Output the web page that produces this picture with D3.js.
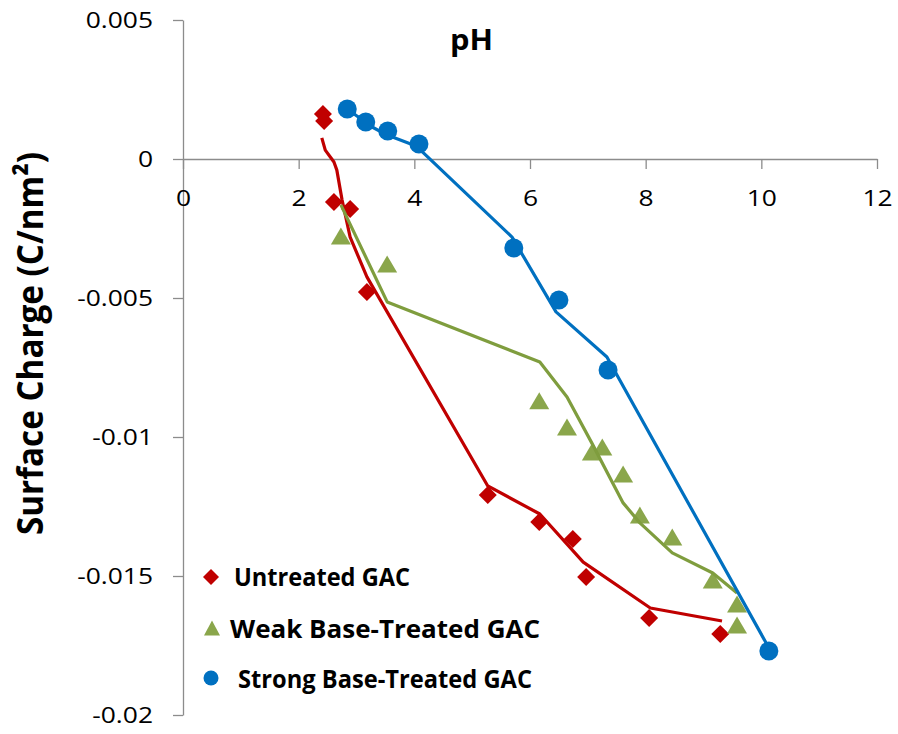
<!DOCTYPE html>
<html>
<head>
<meta charset="utf-8">
<script src="https://cdn.jsdelivr.net/npm/d3@7"></script>
<style>
  body { margin: 0; background: #fff; }
  svg { display: block; }
</style>
</head>
<body>
<svg id="chart" width="898" height="734"></svg>
<script>
// ---------- data ----------
const xTicks = [0, 2, 4, 6, 8, 10, 12];
const xTickLabels = ["0", "2", "4", "6", "8", "10", "12"];
const yTicks = [0.005, 0, -0.005, -0.01, -0.015, -0.02];
const yTickLabels = ["0.005", "0", "-0.005", "-0.01", "-0.015", "-0.02"];

const seriesNames = ["Untreated GAC", "Weak Base-Treated GAC", "Strong Base-Treated GAC"];

// measured points
const untreatedX = [2.42, 2.44, 2.61, 2.89, 3.18, 5.27, 6.16, 6.74, 6.97, 8.06, 9.29];
const untreatedY = [0.00162, 0.00137, -0.00155, -0.0018, -0.00478, -0.01209, -0.01306, -0.01367, -0.01504, -0.01651, -0.01709];

const weakX = [2.73, 3.53, 6.16, 6.64, 7.07, 7.25, 7.61, 7.90, 8.46, 9.16, 9.58, 9.58];
const weakY = [-0.00277, -0.00378, -0.0087, -0.00964, -0.01054, -0.01036, -0.01133, -0.01281, -0.0136, -0.01514, -0.01601, -0.01676];

const strongX = [2.84, 3.16, 3.54, 4.08, 5.72, 6.50, 7.35, 10.13];
const strongY = [0.0018, 0.00133, 0.00101, 0.00054, -0.0032, -0.00507, -0.00759, -0.0177];

// model (fitted) curves
const untreatedFitX = [2.40, 2.46, 2.61, 2.66, 2.75, 2.89, 3.18, 5.27, 6.17, 6.92, 8.08, 9.32];
const untreatedFitY = [0.00076, 0.00032, -0.00011, -0.0004, -0.00147, -0.00281, -0.00424, -0.01176, -0.01277, -0.0145, -0.01615, -0.01662];

const weakFitX = [2.73, 3.53, 6.17, 6.64, 7.07, 7.61, 7.90, 8.46, 9.16, 9.58];
const weakFitY = [-0.00165, -0.00514, -0.0073, -0.00856, -0.01022, -0.01237, -0.01309, -0.01417, -0.01489, -0.01561];

const strongFitX = [2.84, 3.27, 3.53, 4.03, 5.69, 6.45, 7.33, 10.15];
const strongFitY = [0.0018, 0.00115, 0.00086, 0.00047, -0.00281, -0.0055, -0.00712, -0.01766];

// ---------- styling ----------
const colors = ["#C00000", "#8AA64B", "#0070C0"];
const lineColors = ["#C00000", "#7F9D3E", "#0070C0"];
const axisColor = "#8C8C8C";
const fontReg = "'Open Sans', 'DejaVu Sans', sans-serif";
const stretch = 1.2;

const svg = d3.select("#chart");
svg.append("rect").attr("width", 898).attr("height", 734).attr("fill", "#fff");

const x = d3.scaleLinear().domain([0, 12]).range([183, 877]);
const y = d3.scaleLinear().domain([-0.02, 0.005]).range([715, 20]);

// ---------- axes ----------
const yAxis = d3.axisLeft(y)
  .tickValues(yTicks)
  .tickFormat((d, i) => yTickLabels[i])
  .tickSize(10).tickSizeOuter(0).tickPadding(20);
const gy = svg.append("g").attr("transform", `translate(${x(0)},0)`).call(yAxis);

const xAxis = d3.axisBottom(x)
  .tickValues(xTicks)
  .tickFormat((d, i) => xTickLabels[i])
  .tickSize(10).tickSizeOuter(0);
const gx = svg.append("g").attr("transform", `translate(0,${y(0)})`).call(xAxis);

[gx, gy].forEach(g => {
  g.select(".domain").attr("stroke", axisColor).attr("stroke-width", 1.3);
  g.selectAll(".tick line").attr("stroke", axisColor).attr("stroke-width", 1.3);
  g.selectAll(".tick text")
    .attr("fill", "#000")
    .style("font-family", fontReg)
    .style("font-size", "22px");
});
gx.selectAll(".tick text").attr("y", 47).attr("dy", 0);
gy.selectAll(".tick text").attr("dy", "0.36em");

// horizontally stretch tick labels to match the reference aspect
svg.selectAll(".tick text").each(function () {
  const len = this.getComputedTextLength();
  d3.select(this).attr("textLength", len * stretch).attr("lengthAdjust", "spacingAndGlyphs");
});

// ---------- marker shapes ----------
function diamond(s) { const h = s / 2; return `M0,${-h}L${h},0L0,${h}L${-h},0Z`; }
function triangle(w, h) { return `M0,${-h / 2}L${w / 2},${h / 2}L${-w / 2},${h / 2}Z`; }
function circle(d) { const r = d / 2; return `M${r},0A${r},${r},0,1,1,${-r},0A${r},${r},0,1,1,${r},0Z`; }

const line = d3.line().x(d => x(d[0])).y(d => y(d[1]));

const zip = (a, b) => a.map((v, i) => [v, b[i]]);

const fits = [zip(untreatedFitX, untreatedFitY), zip(weakFitX, weakFitY), zip(strongFitX, strongFitY)];
const pts = [zip(untreatedX, untreatedY), zip(weakX, weakY), zip(strongX, strongY)];
const shapes = [diamond(18), triangle(20, 17), circle(19)];

// red & green markers under lines
[0, 1].forEach(i => {
  svg.append("g").selectAll("path").data(pts[i]).join("path")
    .attr("d", shapes[i])
    .attr("transform", d => `translate(${x(d[0])},${y(d[1])})`)
    .attr("fill", colors[i]);
});

// fitted lines
fits.forEach((f, i) => {
  svg.append("path").datum(f)
    .attr("d", line)
    .attr("fill", "none")
    .attr("stroke", lineColors[i])
    .attr("stroke-width", 3.2)
    .attr("stroke-linejoin", "round");
});

// blue markers on top
svg.append("g").selectAll("path").data(pts[2]).join("path")
  .attr("d", shapes[2])
  .attr("transform", d => `translate(${x(d[0])},${y(d[1])})`)
  .attr("fill", colors[2]);

// ---------- title ----------
svg.append("text")
  .attr("x", 450).attr("y", 50)
  .attr("textLength", 43).attr("lengthAdjust", "spacingAndGlyphs")
  .style("font-family", fontReg).style("font-weight", "bold").style("font-size", "28px")
  .text("pH");

// ---------- y-axis title ----------
svg.append("text")
  .attr("transform", "translate(43,343.5) rotate(-90)")
  .attr("text-anchor", "middle")
  .attr("textLength", 383).attr("lengthAdjust", "spacingAndGlyphs")
  .style("font-family", fontReg).style("font-weight", "bold").style("font-size", "36px")
  .text("Surface Charge (C/nm²)");

// ---------- legend ----------
const legendMarkers = [diamond(16), triangle(16, 15), circle(15)];
const legendMarkerPos = [[211, 577], [212, 628], [211, 678]];
const legendTextX = [234, 230, 238];
const legendTextY = [586, 638, 688];
const legendTextW = [176, 310, 294];
seriesNames.forEach((name, i) => {
  svg.append("path")
    .attr("d", legendMarkers[i])
    .attr("transform", `translate(${legendMarkerPos[i][0]},${legendMarkerPos[i][1]})`)
    .attr("fill", colors[i]);
  svg.append("text")
    .attr("x", legendTextX[i]).attr("y", legendTextY[i])
    .attr("textLength", legendTextW[i]).attr("lengthAdjust", "spacingAndGlyphs")
    .style("font-family", fontReg).style("font-weight", "bold").style("font-size", "25px")
    .text(name);
});
</script>
</body>
</html>
